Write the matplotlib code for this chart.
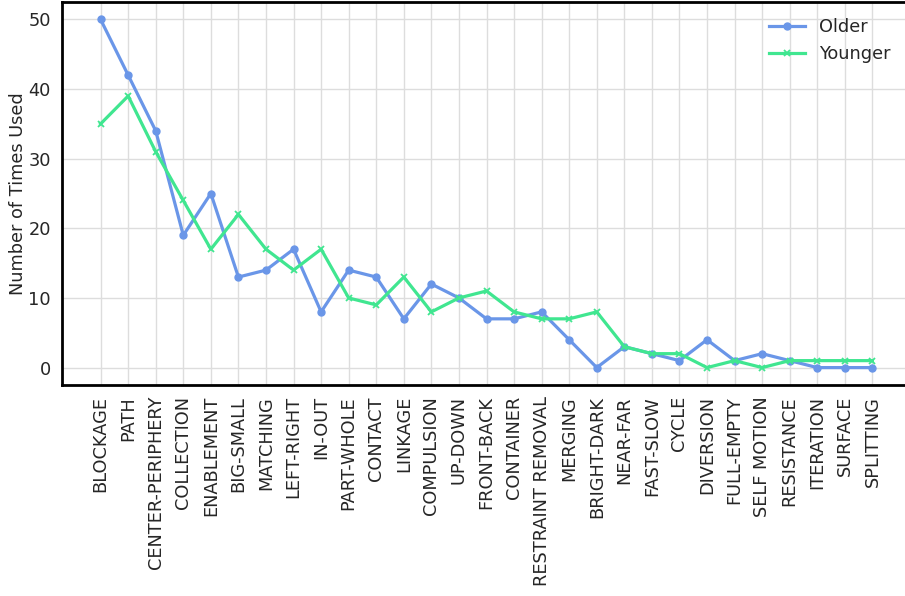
import matplotlib
matplotlib.use("Agg")
import matplotlib.pyplot as plt

# image schemas and how often each group used them
schemas = ["BLOCKAGE", "PATH", "CENTER-PERIPHERY", "COLLECTION", "ENABLEMENT",
           "BIG-SMALL", "MATCHING", "LEFT-RIGHT", "IN-OUT", "PART-WHOLE",
           "CONTACT", "LINKAGE", "COMPULSION", "UP-DOWN", "FRONT-BACK",
           "CONTAINER", "RESTRAINT REMOVAL", "MERGING", "BRIGHT-DARK",
           "NEAR-FAR", "FAST-SLOW", "CYCLE", "DIVERSION", "FULL-EMPTY",
           "SELF MOTION", "RESISTANCE", "ITERATION", "SURFACE", "SPLITTING"]
older = [50, 42, 34, 19, 25, 13, 14, 17, 8, 14, 13, 7, 12, 10, 7, 7, 8, 4, 0,
         3, 2, 1, 4, 1, 2, 1, 0, 0, 0]
younger = [35, 39, 31, 24, 17, 22, 17, 14, 17, 10, 9, 13, 8, 10, 11, 8, 7, 7, 8,
           3, 2, 2, 0, 1, 0, 1, 1, 1, 1]

plt.rcParams["font.family"] = "DejaVu Sans"
fs = 12.8
fig = plt.figure(figsize=(9.05, 5.96), dpi=100)
ax = fig.add_axes([62 / 905, 1 - 385 / 596, 849 / 905, 383 / 596])

x = list(range(len(schemas)))
ax.plot(x, older, color="#6a96e8", lw=2.3, marker="o", ms=5, label="Older")
ax.plot(x, younger, color="#40e690", lw=2.3, marker="x", ms=4.5, mew=1.3,
        label="Younger")

ax.set_xticks(x)
ax.set_xticklabels(schemas, rotation=90, fontsize=fs, color="#262626")
ax.set_yticks([0, 10, 20, 30, 40, 50])
ax.tick_params(axis="y", labelsize=fs, labelcolor="#262626")
ax.tick_params(length=0, pad=8)
ax.set_ylabel("Number of Times Used", fontsize=fs, color="#262626", labelpad=1)
ax.set_xlim(-1.4, 29.4)
ax.set_ylim(-2.5, 52.5)

ax.grid(True, color="#dddddd", lw=1)
ax.set_axisbelow(True)
for s in ax.spines.values():
    s.set_color("black")
    s.set_linewidth(2)

leg = ax.legend(loc="upper right", frameon=False, fontsize=fs,
                bbox_to_anchor=(0.995, 1.0))
for t in leg.get_texts():
    t.set_color("#262626")

fig.savefig("out.png", dpi=100)
